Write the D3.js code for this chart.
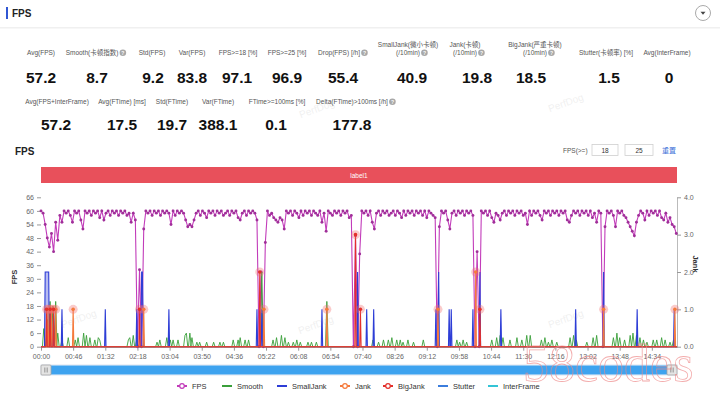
<!DOCTYPE html>
<html><head><meta charset="utf-8">
<script src="https://cdn.jsdelivr.net/npm/d3@7"></script>
<style>body{margin:0;background:#fff;} svg{display:block;font-family:"Liberation Sans",Arial,"Noto Sans CJK SC",sans-serif;}</style>
</head><body><svg id="c" width="720" height="395"></svg>
<script>
// ---------------- DATA ----------------
const statsRow1Labels = [["Avg(FPS)"],["Smooth(卡顿指数)"],["Std(FPS)"],["Var(FPS)"],["FPS>=18 [%]"],["FPS>=25 [%]"],["Drop(FPS) [/h]"],["SmallJank(微小卡顿)","(/10min)"],["Jank(卡顿)","(/10min)"],["BigJank(严重卡顿)","(/10min)"],["Stutter(卡顿率) [%]"],["Avg(InterFrame)"]];
const statsRow1Values = ["57.2","8.7","9.2","83.8","97.1","96.9","55.4","40.9","19.8","18.5","1.5","0"];
const statsRow1Help = [0,1,0,0,0,0,1,1,1,1,0,0];
const statsRow2Labels = [["Avg(FPS+InterFrame)"],["Avg(FTime) [ms]"],["Std(FTime)"],["Var(FTime)"],["FTime>=100ms [%]"],["Delta(FTime)>100ms [/h]"]];
const statsRow2Values = ["57.2","17.5","19.7","388.1","0.1","177.8"];
const statsRow2Help = [0,0,0,0,0,1];

const xTickLabels = ["00:00","00:46","01:32","02:18","03:04","03:50","04:36","05:22","06:08","06:54","07:40","08:26","09:12","09:58","10:44","11:30","12:16","13:02","13:48","14:34"];
const fpsTicks = [0,6,12,18,24,30,36,42,48,54,60,66];
const jankTicks = [0,1,2,3,4];

const fpsStep = 3; // seconds between FPS samples
const fpsValues = [
60,59,54,48,44,50,42,55,47,58,55,60,59,60,58,55,60,59,60,56,
52,60,59,60,58,60,59,60,57,60,56,59,60,58,60,59,60,58,60,59,
60,58,59,55,59,56,0,34,0,52,60,59,60,58,60,59,60,58,60,59,
60,59,54,60,58,60,59,60,59,56,53,54,53,56,59,60,58,60,59,57,
60,59,60,58,60,59,60,58,59,60,58,60,59,60,57,56,59,60,58,60,
59,60,59,56,0,33,0,46,60,58,59,57,56,55,57,56,52,60,59,60,
58,60,59,57,60,58,60,59,60,58,60,59,58,60,55,59,51,60,59,58,
60,59,60,58,60,59,60,57,58,0,49,0,41,60,59,60,58,60,55,52,
59,60,58,60,59,60,58,59,60,58,60,59,57,60,58,60,59,60,58,60,
59,60,58,60,57,60,59,58,57,0,53,60,59,60,56,52,59,60,58,60,
59,60,58,60,59,60,58,0,42,0,60,59,60,58,60,57,55,59,58,56,
59,60,58,60,59,60,58,60,59,60,58,59,54,60,58,60,59,60,58,56,
60,59,60,58,60,59,60,58,60,59,60,56,55,58,60,59,60,58,60,59,
60,58,60,57,59,55,60,59,0,53,60,59,60,58,53,60,59,60,58,57,
55,53,51,49,55,58,60,59,56,60,58,60,59,60,58,60,57,56,59,55,
57,54,53,50];

// Smooth (FPS axis units), sparse: seconds and values, zero elsewhere
const smoothTimes = [4,9,13,17,21,24, 30, 39,49,53,61,65,70,77,82,84, 125,127,132,137,
 166,170,180,185,189,196,206,208,213,216,223,227, 237,247,256,261,275,282,285,292,297, 316,
 332,337,344,349,354,361,366,371, 382,387,394, 409,
 475,483,490,497,502,509,514,518,525,533,547, 595,599,604,609,
 645,652,657,661,671,681,688,695,700, 716,721,726,731,738, 757,762,766,781,790,795,
 819,824,828,835,843,847,852,857,862,867, 876,881,888,893,900,905];
const smoothValues = [8,12,20,18,20,6, 3, 4,3,4,6,5,4,3,4,3, 3,4,5,3,
 2,3,4,3,3,3,5,6,6,4,2,2, 2,2,2,2,3,3,4,3,3, 33,
 3,4,5,4,2,2,3,2, 2,2,2, 20,
 3,2,3,3,4,3,3,2,3,2,3, 3,2,3,2,
 3,4,5,4,3,4,3,5,5, 3,4,2,3,2, 4,5,3,2,4,5,
 4,6,4,3,5,6,5,4,3,2, 3,3,4,3,2,3];

// Jank-type series (Jank axis units), sparse: seconds and values
const smallJankTimes = [6,7,8,9,10,11,14,18,30,92,137,144,145,146,183,309,316,402,453,466,476,565,569,584,587,618,628,658,765,805,853,906];
const smallJankValues = [2,2,2,2,2,2,1,1,1,1,1,2,2,1,1,1,1,1,2,1,1,1,2,1,1,1,2,1,1,2,1,1];
const jankTimes = [10,15,21,46,147,319,409,568,622,805,907];
const jankValues = [1,1,1,1,1,1,1,1,2,1,1];
const bigJankTimes = [8,13,18,141,313,450,457,628];
const bigJankValues = [1,1,1,1,2,3,1,1];

const legendNames = ["FPS","Smooth","SmallJank","Jank","BigJank","Stutter","InterFrame"];

// ---------------- STYLE / LAYOUT ----------------
const C = {fps:"#c23cba", fpsDot:"#a02f99", smooth:"#3a9f3a", small:"#2d3dd6", jank:"#f57a3c", big:"#e3302b", stutter:"#3b7ddd", inter:"#33c4d6"};
const legendColors = [C.fps,C.smooth,C.small,C.jank,C.big,C.stutter,C.inter];
const legendSymbol = [1,0,0,1,1,0,0];
const legendX = [177,222,277,340,383,438,488];
const row1LabelCx = [41,92,152,192,238,287,339,408,465,535,606,667];
const row1ValueCx = [41,97,153,192,237,287,343,412,477,531,609,669];
const row2LabelCx = [57,122,172,218,277,352];
const row2ValueCx = [56,122,172,218,276,352];

const svg = d3.select("#c");

// header
svg.append("rect").attr("x",6).attr("y",7).attr("width",2).attr("height",12).attr("fill","#3056d3");
svg.append("text").attr("x",12).attr("y",17).text("FPS").attr("font-weight","bold").attr("font-size",10).attr("fill","#222");
svg.append("rect").attr("x",0).attr("y",27).attr("width",720).attr("height",1.5).attr("fill","#f0f0f0");
svg.append("circle").attr("cx",703).attr("cy",13).attr("r",7.5).attr("fill","#fff").attr("stroke","#aaa");
svg.append("path").attr("d","M700.5,11.8L705.5,11.8L703,14.8Z").attr("fill","#444");

function helpIcon(cx, cy){
  svg.append("circle").attr("cx",cx).attr("cy",cy).attr("r",3.3).attr("fill","#a8a8a8");
  svg.append("text").attr("x",cx).attr("y",cy+1.8).attr("text-anchor","middle").attr("font-size",5).attr("font-weight","bold").attr("fill","#fff").text("?");
}
function drawStats(labels, values, help, lcx, vcx, labelY, valueY){
  labels.forEach((lines,i)=>{
    let lastNode = null;
    lines.forEach((ln,j)=>{
      const y = labelY - (lines.length-1-j)*8;
      lastNode = svg.append("text").attr("x",lcx[i]).attr("y",y).attr("text-anchor","middle")
        .attr("font-size",6.5).attr("fill","#555").text(ln);
    });
    if(help[i]){
      const w = lastNode.node().getComputedTextLength();
      const xc = +lastNode.attr("x");
      helpIcon(xc + w/2 + 4.5, labelY - 2.2);
    }
    svg.append("text").attr("x",vcx[i]).attr("y",valueY).attr("text-anchor","middle")
      .attr("font-size",15.5).attr("font-weight","bold").attr("fill","#111").text(values[i]);
  });
}
drawStats(statsRow1Labels, statsRow1Values, statsRow1Help, row1LabelCx, row1ValueCx, 55, 83);
drawStats(statsRow2Labels, statsRow2Values, statsRow2Help, row2LabelCx, row2ValueCx, 104, 130);

// watermarks
[[80,322],[317,328],[567,322],[567,106],[318,112]].forEach(p=>{
  svg.append("text").attr("transform",`translate(${p[0]},${p[1]}) rotate(-20)`).attr("text-anchor","middle")
    .attr("font-size",10).attr("fill","#000").attr("opacity",0.06).text("PerfDog");
});

// chart header
svg.append("text").attr("x",15).attr("y",155).text("FPS").attr("font-weight","bold").attr("font-size",10).attr("fill","#222");
svg.append("text").attr("x",563).attr("y",152.5).text("FPS(>=)").attr("font-size",6.5).attr("fill","#555");
[[592,26,"18"],[625,28,"25"]].forEach(b=>{
  svg.append("rect").attr("x",b[0]).attr("y",144.5).attr("width",b[1]).attr("height",11).attr("fill","#fff").attr("stroke","#cfcfcf").attr("stroke-width",0.8);
  svg.append("text").attr("x",b[0]+b[1]/2).attr("y",152.5).attr("text-anchor","middle").attr("font-size",6.5).attr("fill","#333").text(b[2]);
});
svg.append("text").attr("x",662).attr("y",152.5).text("重置").attr("font-size",7).attr("fill","#3b6fd8");

// scales
const tMax = 910;
const x = d3.scaleLinear().domain([0,tMax]).range([41,677]);
const yL = d3.scaleLinear().domain([0,66]).range([346.7,197.3]);
const yR = d3.scaleLinear().domain([0,4]).range([346.7,197.3]);

// label band
svg.append("rect").attr("x",x(0)).attr("y",167).attr("width",x(tMax)-x(0)).attr("height",16).attr("fill","#e8505b");
svg.append("text").attr("x",(x(0)+x(tMax))/2).attr("y",177.5).attr("text-anchor","middle").attr("font-size",6.5).attr("fill","#fff").text("label1");

// axes
function styleAxis(g){
  g.selectAll("text").attr("font-size",7).attr("fill","#666").attr("font-family",'"Liberation Sans",Arial,sans-serif');
  g.selectAll("line").attr("stroke","#999");
}
const gL = svg.append("g").attr("transform",`translate(${x(0)},0)`)
  .call(d3.axisLeft(yL).tickValues(fpsTicks).tickSize(4).tickPadding(3));
gL.select(".domain").remove(); styleAxis(gL);
const gR = svg.append("g").attr("transform",`translate(${x(tMax)},0)`)
  .call(d3.axisRight(yR).tickValues(jankTicks).tickSize(4).tickSizeOuter(0).tickPadding(3));
gR.select(".domain").attr("stroke","#bbb"); styleAxis(gR);
const xTickSecs = xTickLabels.map(s=>{const p=s.split(":"); return (+p[0])*60+(+p[1]);});
const gB = svg.append("g").attr("transform",`translate(0,${yL(0)})`)
  .call(d3.axisBottom(x).tickValues(xTickSecs).tickFormat((d,i)=>xTickLabels[i]).tickSize(4).tickSizeOuter(0).tickPadding(3));
gB.select(".domain").attr("stroke","#888"); styleAxis(gB);

svg.append("text").attr("transform","translate(17,277) rotate(-90)").attr("text-anchor","middle")
  .attr("font-size",7.5).attr("font-weight","bold").attr("fill","#333").text("FPS");
svg.append("text").attr("transform","translate(693,264) rotate(90)").attr("text-anchor","middle")
  .attr("font-size",7.5).attr("font-weight","bold").attr("fill","#333").text("Jank");

// series helpers
function spikePoints(times, values, hw){
  const pts=[[0,0]];
  times.forEach((t,i)=>{
    if(i===0 || times[i-1] < t-hw) pts.push([t-hw,0]);
    pts.push([t,values[i]]);
    if(i===times.length-1 || times[i+1] > t+hw) pts.push([t+hw,0]);
  });
  pts.push([tMax,0]);
  return pts;
}

// FPS
const fpsPts = fpsValues.map((v,i)=>[i*fpsStep, v]);
const lineL = d3.line().x(d=>x(d[0])).y(d=>yL(d[1]));
const lineR = d3.line().x(d=>x(d[0])).y(d=>yR(d[1]));
svg.append("path").attr("d",lineL(fpsPts)).attr("fill","none").attr("stroke",C.fps).attr("stroke-width",1.1);
svg.append("g").selectAll("circle").data(fpsPts).join("circle")
  .attr("cx",d=>x(d[0])).attr("cy",d=>yL(d[1])).attr("r",1.45).attr("fill",C.fpsDot);

// Smooth
svg.append("path").attr("d",lineL(spikePoints(smoothTimes,smoothValues,2))).attr("fill","none").attr("stroke",C.smooth).attr("stroke-width",0.9);

// SmallJank
const sjPts = spikePoints(smallJankTimes,smallJankValues,1);
svg.append("path").attr("d",d3.area().x(d=>x(d[0])).y0(yR(0)).y1(d=>yR(d[1]))(sjPts)).attr("fill",C.small).attr("opacity",0.35);
svg.append("path").attr("d",lineR(sjPts)).attr("fill","none").attr("stroke",C.small).attr("stroke-width",1.1);

// Jank & BigJank
svg.append("path").attr("d",lineR(spikePoints(jankTimes,jankValues,1))).attr("fill","none").attr("stroke",C.jank).attr("stroke-width",1.1);
svg.append("path").attr("d",lineR(spikePoints(bigJankTimes,bigJankValues,1))).attr("fill","none").attr("stroke",C.big).attr("stroke-width",1.1);
function markers(times, values, col){
  const g = svg.append("g");
  g.selectAll("circle.h").data(times).join("circle").attr("class","h")
    .attr("cx",t=>x(t)).attr("cy",(t,i)=>yR(values[i])).attr("r",4.5).attr("fill","#f06a6a").attr("opacity",0.35);
  g.selectAll("circle.c").data(times).join("circle").attr("class","c")
    .attr("cx",t=>x(t)).attr("cy",(t,i)=>yR(values[i])).attr("r",1.8).attr("fill",col);
}
markers(jankTimes,jankValues,C.jank);
markers(bigJankTimes,bigJankValues,C.big);

// slider
svg.append("rect").attr("x",x(0)).attr("y",365).attr("width",x(tMax)-x(0)).attr("height",10).attr("fill","#fff").attr("stroke","#d4dcea").attr("stroke-width",0.8);
svg.append("rect").attr("x",x(0)+8).attr("y",365.5).attr("width",x(tMax)-x(0)-16).attr("height",9).attr("fill","#3ea3ef");
[x(0), x(tMax)-10].forEach(hx=>{
  svg.append("rect").attr("x",hx).attr("y",365).attr("width",10).attr("height",10).attr("rx",1).attr("fill","#e4e4e4").attr("stroke","#a5a5a5").attr("stroke-width",0.8);
  [3.5,5,6.5].forEach(o=>svg.append("line").attr("x1",hx+o).attr("x2",hx+o).attr("y1",367.5).attr("y2",372.5).attr("stroke","#888").attr("stroke-width",0.6));
});

// legend
legendNames.forEach((n,i)=>{
  const lx = legendX[i], ly = 386;
  svg.append("line").attr("x1",lx).attr("x2",lx+10).attr("y1",ly).attr("y2",ly).attr("stroke",legendColors[i]).attr("stroke-width",2);
  if(legendSymbol[i]) svg.append("circle").attr("cx",lx+5).attr("cy",ly).attr("r",2.3).attr("fill","#fff").attr("stroke",legendColors[i]).attr("stroke-width",1.2);
  svg.append("text").attr("x",lx+15).attr("y",ly+2.6).attr("font-size",7.5).attr("fill","#333").text(n);
});

// corner watermark
svg.append("text").attr("x",523).attr("y",381).attr("font-family",'"Liberation Serif","DejaVu Serif",serif')
  .attr("font-size",52).attr("fill","none").attr("stroke","#ef8a8a").attr("stroke-width",0.8).attr("opacity",0.7).text("58codes");
</script></body></html>
